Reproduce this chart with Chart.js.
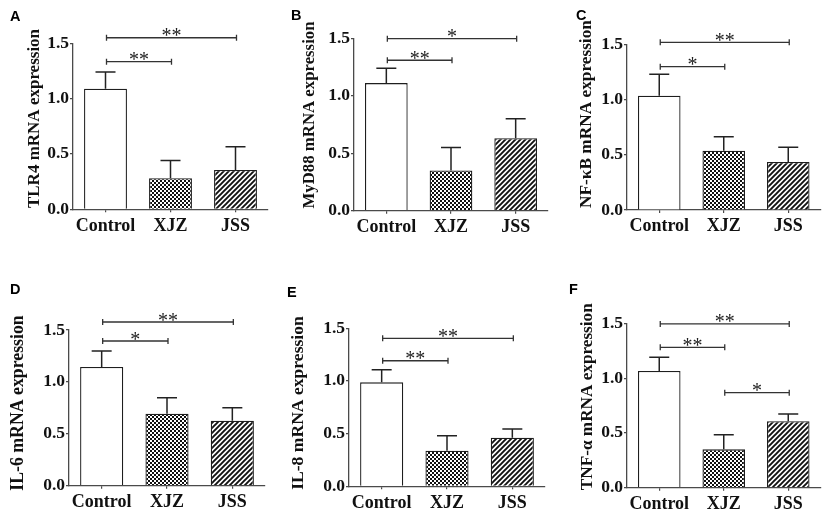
<!DOCTYPE html>
<html><head><meta charset="utf-8">
<script src="https://cdn.jsdelivr.net/npm/chart.js@4.4.1/dist/chart.umd.min.js"></script>
<style>
html,body{margin:0;padding:0;background:#fff;}
#wrap{position:relative;width:829px;height:516px;overflow:hidden;background:#fff;}
#wrap canvas{position:absolute;left:0;top:0;}
</style></head><body><div id="wrap"></div>
<script>
// ---------- data ----------
const categories = ['Control', 'XJZ', 'JSS'];
const yTicks = [0, 0.5, 1.0, 1.5];
const letters = ['A', 'B', 'C', 'D', 'E', 'F'];
const titles = ['TLR4 mRNA expression', 'MyD88 mRNA expression', 'NF-κB mRNA expression',
                'IL-6 mRNA expression', 'IL-8 mRNA expression', 'TNF-α mRNA expression'];

const meanTLR4 = [1.09, 0.28, 0.355];   const semTLR4 = [0.15, 0.16, 0.21];
const meanMyD88 = [1.11, 0.35, 0.63];   const semMyD88 = [0.13, 0.20, 0.17];
const meanNFkB = [1.035, 0.537, 0.435]; const semNFkB = [0.195, 0.127, 0.132];
const meanIL6 = [1.143, 0.694, 0.626];  const semIL6 = [0.155, 0.154, 0.125];
const meanIL8 = [0.987, 0.338, 0.461];  const semIL8 = [0.12, 0.142, 0.083];
const meanTNFa = [1.065, 0.35, 0.606];  const semTNFa = [0.125, 0.134, 0.066];

// significance brackets: [from category, to category, y value, label]
const sigTLR4 = [[0, 1, 1.334, '**'], [0, 2, 1.55, '**']];
const sigMyD88 = [[0, 1, 1.309, '**'], [0, 2, 1.497, '*']];
const sigNFkB = [[0, 1, 1.297, '*'], [0, 2, 1.518, '**']];
const sigIL6 = [[0, 1, 1.394, '*'], [0, 2, 1.577, '**']];
const sigIL8 = [[0, 1, 1.192, '**'], [0, 2, 1.405, '**']];
const sigTNFa = [[0, 1, 1.281, '**'], [0, 2, 1.494, '**'], [1, 2, 0.867, '*']];

const means = [meanTLR4, meanMyD88, meanNFkB, meanIL6, meanIL8, meanTNFa];
const sems = [semTLR4, semMyD88, semNFkB, semIL6, semIL8, semTNFa];
const sigs = [sigTLR4, sigMyD88, sigNFkB, sigIL6, sigIL8, sigTNFa];

// ---------- layout (page pixels) ----------
const layout = [
  {L: 73,  T: 43.3,  R: 268,   B: 209.3, lx: 10,  ly: 21,  tx: 35,  ty: 118.5, ts: 17},
  {L: 354, T: 38.3,  R: 548,   B: 210.7, lx: 291, ly: 19.5,tx: 310, ty: 115,   ts: 16.8},
  {L: 627, T: 44.3,  R: 820.5, B: 210,   lx: 576, ly: 20,  tx: 587, ty: 114,   ts: 17.3},
  {L: 69,  T: 330,   R: 265,   B: 485.7, lx: 10,  ly: 293.5, tx: 18.5, ty: 403, ts: 17.8},
  {L: 349, T: 328.3, R: 545,   B: 486.3, lx: 287, ly: 297, tx: 298.5, ty: 403,  ts: 17.6},
  {L: 627, T: 323.3, R: 820.5, B: 487.7, lx: 569, ly: 293.5, tx: 587.5, ty: 396.7, ts: 17.2}
];

// ---------- patterns ----------
function makeChecker() {
  const c = document.createElement('canvas'); c.width = 4; c.height = 4;
  const g = c.getContext('2d');
  g.fillStyle = '#fff'; g.fillRect(0, 0, 4, 4);
  g.fillStyle = '#111'; g.fillRect(0, 0, 2, 2); g.fillRect(2, 2, 2, 2);
  return g.createPattern(c, 'repeat');
}
function makeStripes() {
  const s = 5;
  const c = document.createElement('canvas'); c.width = s; c.height = s;
  const g = c.getContext('2d');
  g.fillStyle = '#fff'; g.fillRect(0, 0, s, s);
  g.strokeStyle = '#111'; g.lineWidth = 1.9;
  g.beginPath();
  g.moveTo(-1, s + 1); g.lineTo(s + 1, -1);
  g.moveTo(-s / 2 - 1, s / 2 + 1); g.lineTo(s / 2 + 1, -s / 2 - 1);
  g.moveTo(s / 2 - 1, s * 1.5 + 1); g.lineTo(s * 1.5 + 1, s / 2 - 1);
  g.stroke();
  return g.createPattern(c, 'repeat');
}
const checker = makeChecker();
const stripes = makeStripes();

const AXIS = '#4a4a4a';
const INK = '#222';

Chart.defaults.font.family = '"Liberation Serif", "Times New Roman", serif';
Chart.defaults.font.weight = 'bold';
Chart.defaults.font.size = 17.5;
Chart.defaults.color = '#111';

const annot = {
  id: 'annot',
  afterDraw(chart) {
    const i = chart.options.plugins.annot.panel;
    const P = layout[i];
    const {ctx} = chart;
    const x = chart.scales.x, y = chart.scales.y;
    ctx.save();
    // error bars (upper only)
    ctx.strokeStyle = INK; ctx.lineWidth = 1.5;
    means[i].forEach((m, j) => {
      const cx = x.getPixelForValue(j);
      const y0 = y.getPixelForValue(m);
      const y1 = y.getPixelForValue(m + sems[i][j]);
      ctx.beginPath();
      ctx.moveTo(cx, y0); ctx.lineTo(cx, y1);
      ctx.moveTo(cx - 10, y1); ctx.lineTo(cx + 10, y1);
      ctx.stroke();
    });
    // brackets
    ctx.lineWidth = 1.3; ctx.strokeStyle = '#333';
    ctx.fillStyle = '#222';
    ctx.font = '20px "Liberation Serif"';
    ctx.textAlign = 'center'; ctx.textBaseline = 'alphabetic';
    sigs[i].forEach(([a, b, v, lab]) => {
      const x1 = x.getPixelForValue(a) + 1, x2 = x.getPixelForValue(b) + 1;
      const yb = y.getPixelForValue(v);
      ctx.beginPath();
      ctx.moveTo(x1, yb); ctx.lineTo(x2, yb);
      ctx.moveTo(x1, yb - 3); ctx.lineTo(x1, yb + 3);
      ctx.moveTo(x2, yb - 3); ctx.lineTo(x2, yb + 3);
      ctx.stroke();
      ctx.fillText(lab, (x1 + x2) / 2, yb + 4.5);
    });
    // panel letter
    ctx.fillStyle = '#000';
    ctx.font = 'bold 14.5px "Liberation Sans"';
    ctx.textAlign = 'left';
    ctx.fillText(letters[i], P.lx, P.ly);
    // y title
    ctx.translate(P.tx, P.ty);
    ctx.rotate(-Math.PI / 2);
    ctx.font = 'bold ' + P.ts + 'px "Liberation Serif"';
    ctx.textAlign = 'center'; ctx.textBaseline = 'middle';
    ctx.fillStyle = '#111';
    ctx.fillText(titles[i], 0, 0);
    ctx.restore();
  }
};

const wrap = document.getElementById('wrap');
const YW = 40, XH = 30;

layout.forEach((P, i) => {
  const cv = document.createElement('canvas');
  cv.width = 829; cv.height = 516;
  cv.style.width = '829px'; cv.style.height = '516px';
  wrap.appendChild(cv);
  new Chart(cv, {
    type: 'bar',
    data: {
      labels: categories,
      datasets: [{
        data: means[i],
        backgroundColor: ['#ffffff', checker, stripes],
        borderColor: '#1e1e1e',
        borderWidth: 1.3,
        borderSkipped: 'start',
        barPercentage: 0.66,
        categoryPercentage: 1
      }]
    },
    options: {
      responsive: false,
      animation: false,
      devicePixelRatio: 1,
      layout: {padding: {left: P.L - YW, right: 829 - P.R, top: P.T, bottom: 516 - P.B - XH}},
      plugins: {legend: {display: false}, tooltip: {enabled: false}, annot: {panel: i}},
      scales: {
        x: {
          offset: true,
          grid: {display: true, offset: false, drawOnChartArea: false, drawTicks: true, tickLength: 3, color: AXIS, lineWidth: 1.2},
          border: {display: true, color: AXIS, width: 1.3},
          ticks: {font: {size: 18, weight: 'bold'}, color: '#111', padding: 3, maxRotation: 0, autoSkip: false},
          afterFit(s) { s.height = XH; }
        },
        y: {
          type: 'linear',
          min: 0, max: 1.5,
          afterBuildTicks(s) { s.ticks = yTicks.map(v => ({value: v})); },
          ticks: {font: {size: 17.5, weight: 'bold'}, color: '#111', padding: 1,
                  callback: v => Number(v).toFixed(1)},
          grid: {display: true, drawOnChartArea: false, drawTicks: true, tickLength: 3, color: AXIS, lineWidth: 1.2},
          border: {display: true, color: AXIS, width: 1.3},
          afterFit(s) { s.width = YW; }
        }
      }
    },
    plugins: [annot]
  });
});
</script>
</body></html>
